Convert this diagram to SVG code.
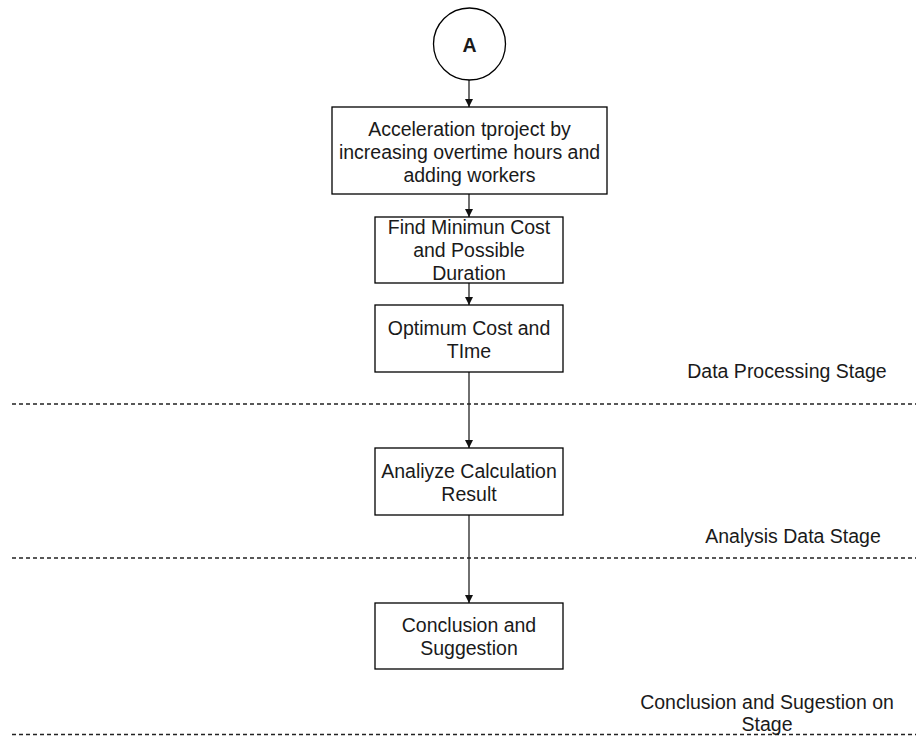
<svg xmlns="http://www.w3.org/2000/svg" width="917" height="736" viewBox="0 0 917 736">
<style>
.box{fill:#fff;stroke:#000;stroke-width:1.3}
.t{font-family:"Liberation Sans",Arial,sans-serif;font-size:19.5px;fill:#1a1a1a;text-anchor:middle;dominant-baseline:central}
.b{font-weight:bold}
.edge{stroke:#222;stroke-width:1.3;fill:none}
.dash{stroke:#222;stroke-width:1.3;stroke-dasharray:4 3;fill:none}
</style>
<defs>
<marker id="ah" markerWidth="8" markerHeight="8" refX="8" refY="4" orient="auto" markerUnits="userSpaceOnUse">
<path d="M0,0 L8,4 L0,8 Z" fill="#111"/>
</marker>
</defs>
<g id="stages">
<line class="dash" x1="12" y1="404" x2="916" y2="404"/>
<line class="dash" x1="12" y1="558" x2="916" y2="558"/>
<line class="dash" x1="12" y1="734.5" x2="916" y2="734.5"/>
<text class="t" x="787" y="371">Data Processing Stage</text>
<text class="t" x="793" y="536">Analysis Data Stage</text>
<text class="t" x="767" y="702">Conclusion and Sugestion on</text>
<text class="t" x="767" y="724">Stage</text>
</g>
<g id="connectors">
<line class="edge" x1="469" y1="80" x2="469" y2="107" marker-end="url(#ah)"/>
<line class="edge" x1="469" y1="194" x2="469" y2="217" marker-end="url(#ah)"/>
<line class="edge" x1="469" y1="283" x2="469" y2="305" marker-end="url(#ah)"/>
<line class="edge" x1="469" y1="372" x2="469" y2="448" marker-end="url(#ah)"/>
<line class="edge" x1="469" y1="515" x2="469" y2="603" marker-end="url(#ah)"/>
</g>
<g id="nodeA">
<circle class="box" cx="469.5" cy="44" r="36"/>
<text class="t b" x="469.5" y="45">A</text>
</g>
<g id="node1">
<rect class="box" x="332" y="107" width="275" height="87"/>
<text class="t" x="469.5" y="129">Acceleration tproject by</text>
<text class="t" x="469.5" y="152">increasing overtime hours and</text>
<text class="t" x="469.5" y="175">adding workers</text>
</g>
<g id="node2">
<rect class="box" x="375" y="217" width="188" height="66"/>
<text class="t" x="469" y="227">Find Minimun Cost</text>
<text class="t" x="469" y="250">and Possible</text>
<text class="t" x="469" y="273">Duration</text>
</g>
<g id="node3">
<rect class="box" x="375" y="305" width="188" height="67"/>
<text class="t" x="469" y="328">Optimum Cost and</text>
<text class="t" x="469" y="351">TIme</text>
</g>
<g id="node4">
<rect class="box" x="375" y="448" width="188" height="67"/>
<text class="t" x="469" y="471">Analiyze Calculation</text>
<text class="t" x="469" y="494">Result</text>
</g>
<g id="node5">
<rect class="box" x="375" y="603" width="188" height="66"/>
<text class="t" x="469" y="625">Conclusion and</text>
<text class="t" x="469" y="648">Suggestion</text>
</g>
</svg>
